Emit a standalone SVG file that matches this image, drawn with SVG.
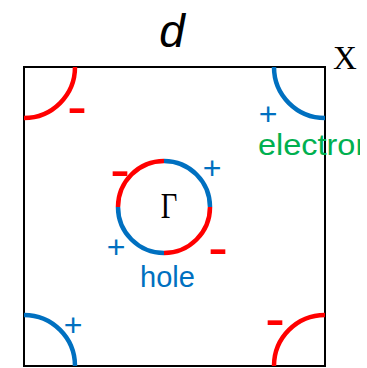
<svg xmlns="http://www.w3.org/2000/svg" width="367" height="368" viewBox="0 0 367 368">
<style>
.arc{fill:none;stroke-width:4.5}
.r{stroke:#ff0000}
.b{stroke:#0070c0}
.minus{font-family:"Liberation Sans",Arial,sans-serif;font-size:60px;fill:#ff0000;text-anchor:middle}
.plus{font-family:"Liberation Sans",Arial,sans-serif;font-size:32px;fill:#0070c0;text-anchor:middle}
.lbl{font-family:"Liberation Sans",Arial,sans-serif;font-size:29px}
.serif{font-family:"Liberation Serif","Times New Roman",serif;fill:#000}
</style>
<defs>
<clipPath id="clipR"><rect x="0" y="0" width="360" height="368"/></clipPath>
</defs>
<rect width="367" height="368" fill="#fff"/>
<g id="zone">
<rect x="24" y="67" width="301" height="299" fill="none" stroke="#000" stroke-width="2"/>
</g>
<g id="corner-tl">
<path class="arc r" d="M 75 67 A 51 51 0 0 1 24 118"/>
<text class="minus" x="77" y="125.5">-</text>
</g>
<g id="corner-tr">
<path class="arc b" d="M 274 67 A 51 51 0 0 0 325 118"/>
<text class="plus" x="268" y="124.5">+</text>
</g>
<g id="corner-bl">
<path class="arc b" d="M 24 315 A 51 51 0 0 1 75 366"/>
<text class="plus" x="73" y="336">+</text>
</g>
<g id="corner-br">
<path class="arc r" d="M 274 366 A 51 51 0 0 1 325 315"/>
<text class="minus" x="275" y="337.5">-</text>
</g>
<g id="gamma-pocket">
<path class="arc r" d="M 164 161 A 46 46 0 0 0 118 207"/>
<path class="arc b" d="M 118 207 A 46 46 0 0 0 164 253"/>
<path class="arc r" d="M 164 253 A 46 46 0 0 0 210 207"/>
<path class="arc b" d="M 210 207 A 46 46 0 0 0 164 161"/>
<text class="serif" x="0" y="218" font-size="35" text-anchor="middle" transform="translate(169,0) scale(0.82,1)">Γ</text>
<text class="minus" x="120" y="188.5">-</text>
<text class="plus" x="212" y="179">+</text>
<text class="plus" x="116" y="258">+</text>
<text class="minus" x="218" y="266.5">-</text>
<text class="lbl" x="140" y="287" fill="#0070c0">hole</text>
</g>
<g id="labels">
<text x="172" y="47" font-family="Liberation Sans,Arial,sans-serif" font-style="italic" font-size="46" text-anchor="middle">d</text>
<text class="serif" x="333" y="69" font-size="33">X</text>
<g clip-path="url(#clipR)">
<text class="lbl" x="0" y="155" font-size="28" fill="#00b050" transform="translate(258,0) scale(1.12,1)">electron</text>
</g>
</g>
</svg>
